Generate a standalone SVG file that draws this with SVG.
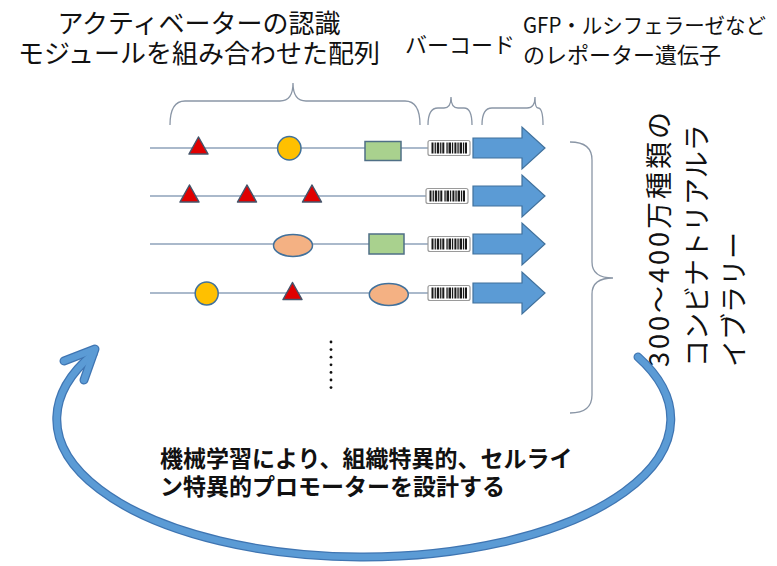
<svg xmlns="http://www.w3.org/2000/svg" xmlns:xlink="http://www.w3.org/1999/xlink" width="777" height="566" viewBox="0 0 777 566">
<style>
.t{font-family:"Noto Sans CJK JP","Noto Sans",sans-serif;fill:#111}
.b{font-weight:bold}
.brace{fill:none;stroke:#8A96A6;stroke-width:1.3}
.dna{stroke:#8EA2BA;stroke-width:1.5}
.tri{fill:#E00000;stroke:#44546A;stroke-width:1.5;stroke-linejoin:round}
.cir{fill:#FFC000;stroke:#41719C;stroke-width:1.5}
.box{fill:#A9D18E;stroke:#4F6F86;stroke-width:1.5}
.ell{fill:#F4B183;stroke:#41719C;stroke-width:1.5}
.rep{fill:#5B9BD5;stroke:#41719C;stroke-width:1.2}
.bar{fill:#1a1a1a}
.loopo{fill:none;stroke:#3F75B2;stroke-width:9;stroke-linecap:round;stroke-linejoin:round}
.loopi{fill:none;stroke:#5B9BD5;stroke-width:6.5;stroke-linecap:round;stroke-linejoin:round}
</style>
<defs>
<polygon id="triS" class="tri" points="0,-11 -9.5,6 9.5,6"/>
<path id="repS" class="rep" d="M473,-10 L522,-10 L522,-21 L545,0 L522,21 L522,10 L473,10 Z"/>
<g id="bcS">
<rect x="428" y="-7.5" width="42" height="15" rx="2" fill="#fff" stroke="#9A9A9A" stroke-width="1.2"/>
<rect class="bar" x="431.5" y="-5.5" width="2" height="11"/>
<rect class="bar" x="434.6" y="-5.5" width="1.3" height="11"/>
<rect class="bar" x="436.8" y="-5.5" width="2.4" height="11"/>
<rect class="bar" x="440.1" y="-5.5" width="1.3" height="11"/>
<rect class="bar" x="442.3" y="-5.5" width="2" height="11"/>
<rect class="bar" x="446.4" y="-5.5" width="1.3" height="11"/>
<rect class="bar" x="448.5" y="-5.5" width="2.5" height="11"/>
<rect class="bar" x="451.9" y="-5.5" width="1.3" height="11"/>
<rect class="bar" x="454.4" y="-5.5" width="2" height="11"/>
<rect class="bar" x="457.4" y="-5.5" width="1.3" height="11"/>
<rect class="bar" x="459.6" y="-5.5" width="2.4" height="11"/>
<rect class="bar" x="462.9" y="-5.5" width="1.3" height="11"/>
<rect class="bar" x="465" y="-5.5" width="2" height="11"/>
</g>
</defs>

<g id="labels">
<text class="t" x="199" y="33" font-size="26" text-anchor="middle">アクティベーターの認識</text>
<text class="t" x="199" y="63" font-size="26" text-anchor="middle">モジュールを組み合わせた配列</text>
<text class="t" x="405" y="53" font-size="22">バーコード</text>
<text class="t" x="523" y="33" font-size="21" textLength="243" lengthAdjust="spacingAndGlyphs">GFP・ルシフェラーゼなど</text>
<text class="t" x="523" y="63" font-size="22">のレポーター遺伝子</text>
</g>

<g id="braces">
<path class="brace" d="M170,125 Q170,101 185,101 L280,101 Q293,101 293,83 Q293,101 306,101 L405,101 Q420,101 420,125"/>
<path class="brace" d="M428,125 Q428,108 438,108 L444,108 Q451,108 451,97 Q451,108 458,108 L464,108 Q472,108 472,125"/>
<path class="brace" d="M482,125 Q482,108 492,108 L527,108 Q535,108 535,97 Q535,108 538,108 Q543,108 543,125"/>
<path class="brace" d="M570,142 Q592,142 592,160 L592,262 Q592,278 613,278 Q592,278 592,294 L592,395 Q592,413 570,413"/>
</g>

<g id="row1" transform="translate(0,148)">
<line class="dna" x1="150" y1="0" x2="428" y2="0"/>
<use xlink:href="#triS" x="198.5" y="0"/>
<circle class="cir" cx="289.3" cy="0.3" r="11.7"/>
<rect class="box" x="365" y="-6.5" width="36" height="19"/>
<use xlink:href="#bcS"/>
<use xlink:href="#repS"/>
</g>
<g id="row2" transform="translate(0,196)">
<line class="dna" x1="150" y1="0" x2="428" y2="0"/>
<use xlink:href="#triS" x="189.5" y="0"/>
<use xlink:href="#triS" x="247" y="0"/>
<use xlink:href="#triS" x="312" y="0"/>
<use xlink:href="#bcS" x="-2"/>
<use xlink:href="#repS"/>
</g>
<g id="row3" transform="translate(0,244)">
<line class="dna" x1="150" y1="0" x2="428" y2="0"/>
<ellipse class="ell" cx="293" cy="1.5" rx="19.5" ry="11"/>
<rect class="box" x="369" y="-10" width="35" height="20"/>
<use xlink:href="#bcS"/>
<use xlink:href="#repS"/>
</g>
<g id="row4" transform="translate(0,293)">
<line class="dna" x1="150" y1="0" x2="428" y2="0"/>
<circle class="cir" cx="206.7" cy="0.5" r="11.5"/>
<use xlink:href="#triS" x="292.5" y="0.5"/>
<ellipse class="ell" cx="388.8" cy="1.5" rx="19.5" ry="11"/>
<use xlink:href="#bcS"/>
<use xlink:href="#repS"/>
</g>

<g id="ellipsis" fill="#111">
<circle cx="331" cy="342" r="1.4"/>
<circle cx="331" cy="349.6" r="1.4"/>
<circle cx="331" cy="357.2" r="1.4"/>
<circle cx="331" cy="364.8" r="1.4"/>
<circle cx="331" cy="372.4" r="1.4"/>
<circle cx="331" cy="380" r="1.4"/>
<circle cx="331" cy="387.6" r="1.4"/>
</g>

<g id="library-label">
<text class="t" font-size="27" transform="translate(669,367) rotate(-90)">
<tspan x="0" y="0" textLength="255" lengthAdjust="spacing">300〜400万種類の</tspan>
<tspan x="0" y="38">コンビナトリアルラ</tspan>
<tspan x="0" y="75">イブラリー</tspan>
</text>
</g>

<g id="connectors">
<path class="loopo" d="M638,357 A307,138 0 1 1 93,354"/>
<polyline class="loopo" points="64,361 95,349 84,380"/>
<path class="loopi" d="M638,357 A307,138 0 1 1 93,354"/>
<polyline class="loopi" points="64,361 95,349 84,380"/>
</g>

<g id="ml-label">
<text class="t b" x="160" y="467" font-size="23">機械学習により、組織特異的、セルライ</text>
<text class="t b" x="160" y="495" font-size="23">ン特異的プロモーターを設計する</text>
</g>
</svg>
